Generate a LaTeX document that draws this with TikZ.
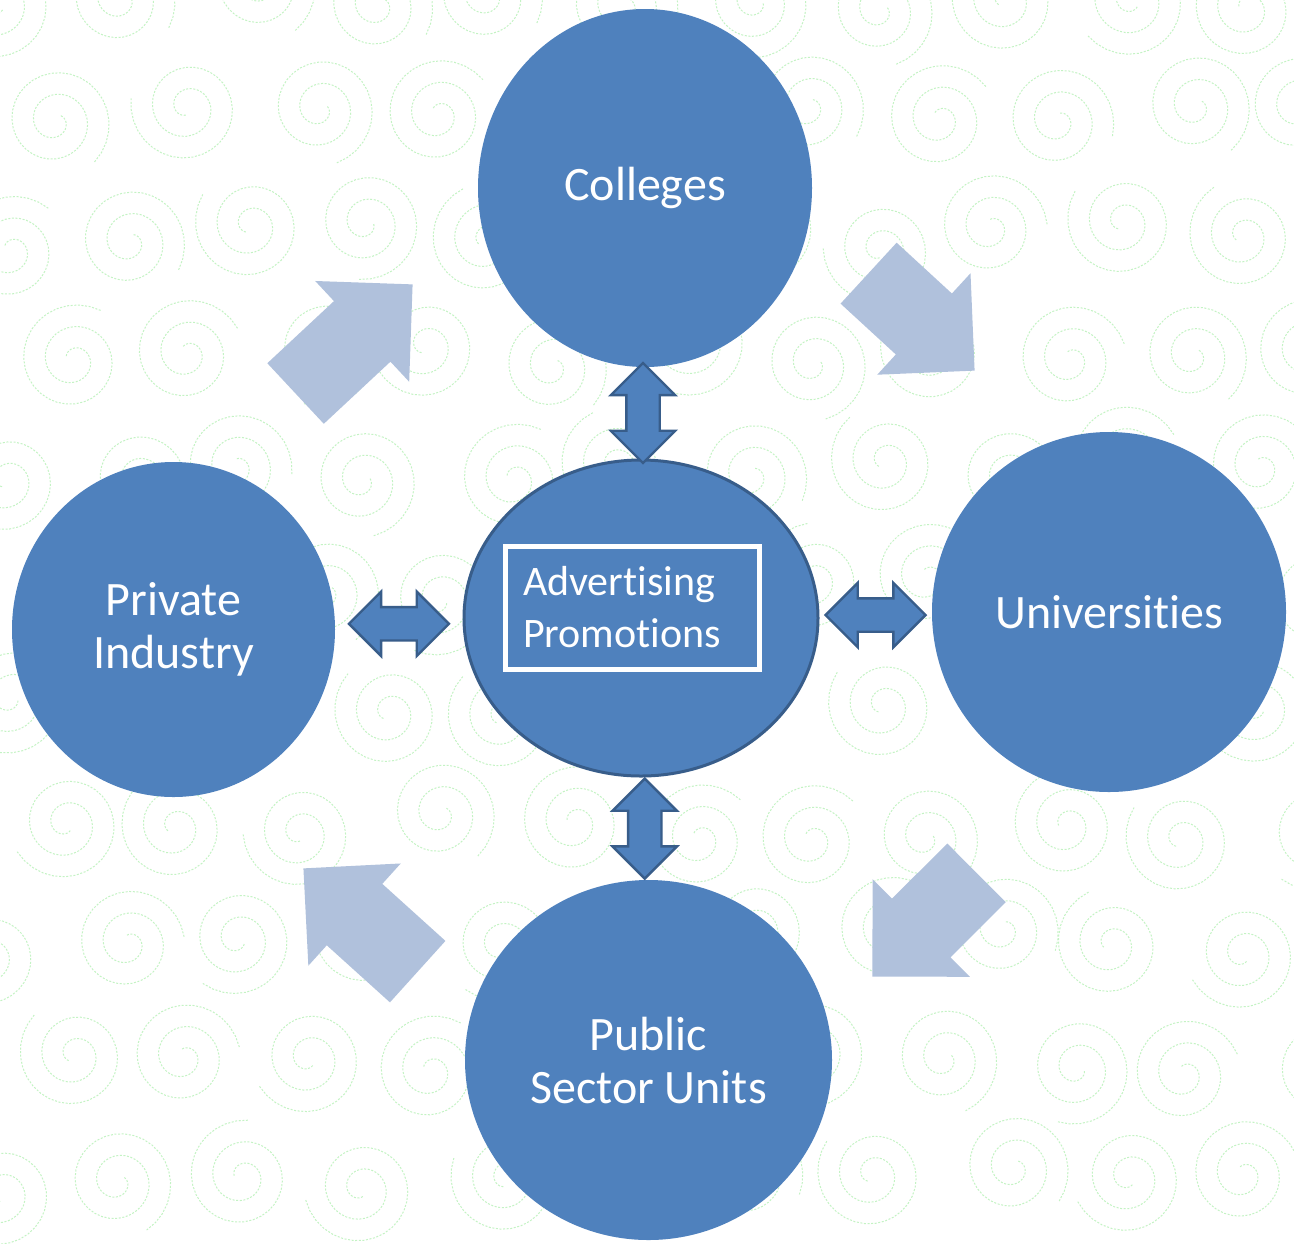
\documentclass[tikz,border=0pt]{standalone}
\usepackage{fontspec}
\setmainfont[Ligatures=NoCommon]{Carlito}
\usetikzlibrary{calc, shapes.geometric, shapes.arrows}
\definecolor{myblue}{RGB}{79, 129, 189}
\definecolor{mydarkblue}{RGB}{56, 93, 138}
\definecolor{mylightblue}{RGB}{176, 193, 220}
\definecolor{mygreen}{RGB}{196, 243, 196}
\tikzset{
bigcircle/.style={ellipse, fill=myblue, inner sep=0pt, text=white, align=center, font=\fontsize{24}{26.5}\selectfont},
dblarrow/.style={double arrow, fill=myblue, draw=mydarkblue, line width=1.2pt, inner xsep=0pt, inner ysep=7.75pt, double arrow head extend=7.75pt, minimum height=50pt},
cyclearrow/.style={single arrow, fill=mylightblue, inner xsep=0pt, inner ysep=20.5pt, single arrow head extend=13.75pt, single arrow tip angle=90, anchor=tip},
swirl/.style={mygreen, line width=0.5pt, dash pattern=on 1pt off 0.8pt}
}
\pgfmathsetseed{7}
\begin{document}
\begin{tikzpicture}[x=0.5pt, y=-0.5pt]
\useasboundingbox (0,0) rectangle (1294,1243);
\fill[white] (0,0) rectangle (1294,1243);
% background swirls
\begin{scope}
\clip (0,0) rectangle (1294,1243);
\foreach \i in {0,...,10}{
\foreach \j in {0,...,10}{
\pgfmathsetmacro\cx{\i*125 + mod(\j,2)*62 + rand*15}
\pgfmathsetmacro\cy{\j*118 + rand*15}
\pgfmathsetmacro\rot{rnd*360}
\draw[swirl] plot[domain=0:810, samples=70, variable=\t] 
({\cx + (8 + 0.06*\t)*cos(\t + \rot)}, {\cy + (8 + 0.06*\t)*sin(\t + \rot)});
}
}
\end{scope}
% light arrows round the cycle
\node[cyclearrow, minimum height=80pt, rotate=43] (pc) at (413,284) {};
\node[cyclearrow, minimum height=72pt, rotate=-42.6] (cu) at (975,371) {};
\node[cyclearrow, minimum height=73.5pt, rotate=224.9] (up) at (872,977) {};
\node[cyclearrow, minimum height=77pt, rotate=137.9] (pp) at (303,868) {};
% circles
\node[bigcircle, minimum width=167pt, minimum height=179pt] (col) at (645,188) {Colleges};
\node[bigcircle, minimum width=177pt, minimum height=180pt] (uni) at (1109,612) {Universities};
\node[bigcircle, minimum width=161.5pt, minimum height=167.5pt] (pri) at (173.5,629.5) {Private\\Industry};
\node[bigcircle, minimum width=183.5pt, minimum height=180pt] (pub) at (648.5,1060) {Public\\Sector Units};
\node[bigcircle, draw=mydarkblue, line width=1.5pt, minimum width=177pt, minimum height=158pt] (adv) at (641,618) {};
\node[draw=white, line width=2.5pt, text=white, align=left, text width=109.5pt, inner xsep=8.75pt, minimum height=61.5pt, font=\fontsize{21}{26}\selectfont] (box) at (632.5,607.5) {Advertising\\Promotions};
% double arrows
\node[dblarrow, rotate=90] (a1) at ($(col.south)!0.5!(adv.north)$) {};
\node[dblarrow] (a2) at ($(pri.east)!0.5!(adv.west)$) {};
\node[dblarrow] (a3) at ($(adv.east)!0.5!(uni.west)$) {};
\node[dblarrow, rotate=90] (a4) at ($(adv.south)!0.5!(pub.north)$) {};
\end{tikzpicture}
\end{document}
